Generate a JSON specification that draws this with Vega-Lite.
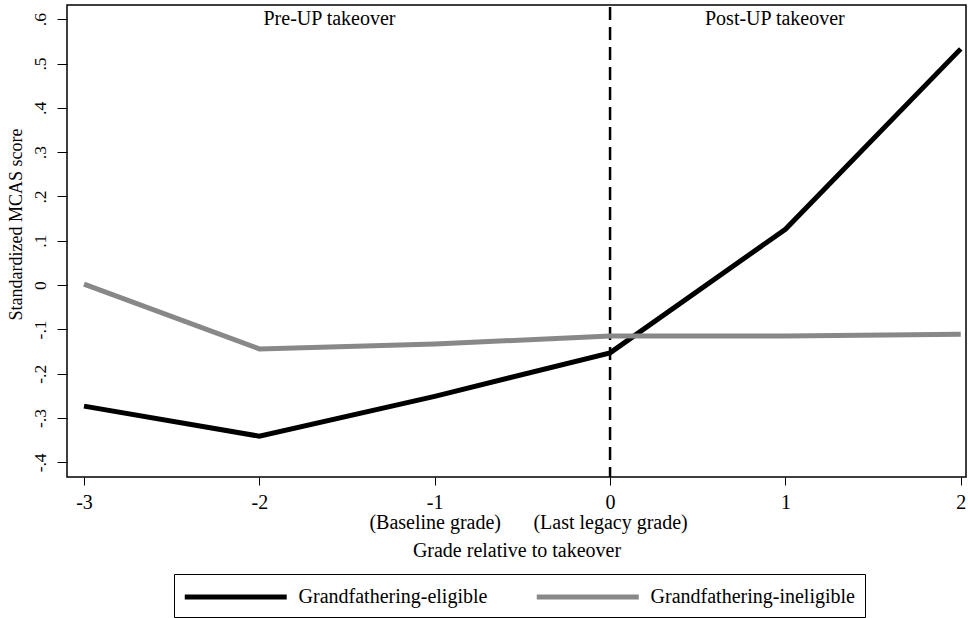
{
  "$schema": "https://vega.github.io/schema/vega-lite/v6.json",
  "autosize": "none",
  "width": 899,
  "height": 472,
  "padding": {"left": 67, "top": 5, "right": 2, "bottom": 141},
  "background": "white",
  "config": {
    "font": "Liberation Serif, Times New Roman, Times, serif",
    "view": {"stroke": "black", "strokeWidth": 1.5},
    "axis": {"grid": false, "domain": false, "tickColor": "black", "labelColor": "black", "titleColor": "black", "labelFont": "Liberation Serif, Times New Roman, Times, serif", "titleFont": "Liberation Serif, Times New Roman, Times, serif", "titleFontWeight": "normal"}
  },
  "datasets": {
    "series": [
      {"grade": -3, "score": -0.273, "group": "Grandfathering-eligible"},
      {"grade": -2, "score": -0.341, "group": "Grandfathering-eligible"},
      {"grade": -1, "score": -0.251, "group": "Grandfathering-eligible"},
      {"grade": 0, "score": -0.153, "group": "Grandfathering-eligible"},
      {"grade": 1, "score": 0.126, "group": "Grandfathering-eligible"},
      {"grade": 2, "score": 0.533, "group": "Grandfathering-eligible"},
      {"grade": -3, "score": 0.002, "group": "Grandfathering-ineligible"},
      {"grade": -2, "score": -0.144, "group": "Grandfathering-ineligible"},
      {"grade": -1, "score": -0.133, "group": "Grandfathering-ineligible"},
      {"grade": 0, "score": -0.115, "group": "Grandfathering-ineligible"},
      {"grade": 1, "score": -0.115, "group": "Grandfathering-ineligible"},
      {"grade": 2, "score": -0.111, "group": "Grandfathering-ineligible"}
    ],
    "notes": [
      {"grade": -1.6, "score": 0.6, "label": "Pre-UP takeover"},
      {"grade": 0.94, "score": 0.6, "label": "Post-UP takeover"}
    ],
    "cutoff": [{"grade": 0}]
  },
  "layer": [
    {
      "data": {"name": "cutoff"},
      "mark": {"type": "rule", "color": "black", "strokeWidth": 2.5, "strokeDash": [13, 7], "strokeDashOffset": -2},
      "encoding": {"x": {"field": "grade", "type": "quantitative", "scale": {"domain": [-3.097, 2.03]}}}
    },
    {
      "data": {"name": "series"},
      "mark": {"type": "line", "strokeWidth": 5, "strokeJoin": "miter", "strokeCap": "butt", "clip": true},
      "encoding": {
        "x": {
          "field": "grade", "type": "quantitative",
          "scale": {"domain": [-3.097, 2.03], "nice": false, "zero": false},
          "axis": {
            "values": [-3, -2, -1, 0, 1, 2],
            "tickSize": 8,
            "labelPadding": 7,
            "labelFontSize": 20,
            "labelLineHeight": 20,
            "labelExpr": "datum.value == -1 ? ['-1', '(Baseline grade)'] : datum.value == 0 ? ['0', '(Last legacy grade)'] : '' + datum.value",
            "title": "Grade relative to takeover",
            "titleFontSize": 20,
            "titlePadding": 8
          }
        },
        "y": {
          "field": "score", "type": "quantitative",
          "scale": {"domain": [-0.433, 0.632], "nice": false, "zero": false},
          "axis": {
            "values": [-0.4, -0.3, -0.2, -0.1, 0, 0.1, 0.2, 0.3, 0.4, 0.5, 0.6],
            "tickSize": 10,
            "labelAngle": -90,
            "labelAlign": "center",
            "labelBaseline": "bottom",
            "labelPadding": 8,
            "labelFontSize": 17.5,
            "labelExpr": "datum.value == 0 ? '0' : replace('' + datum.value, '0.', '.')",
            "title": "Standardized MCAS score",
            "titleFontSize": 18,
            "titleY": 219,
            "titlePadding": 6
          }
        },
        "color": {
          "field": "group", "type": "nominal",
          "scale": {"domain": ["Grandfathering-eligible", "Grandfathering-ineligible"], "range": ["#000000", "#888888"]},
          "legend": {
            "title": null,
            "orient": "none",
            "legendX": 107,
            "legendY": 569,
            "direction": "horizontal",
            "symbolType": "M-1.2,0H8.8",
            "symbolStrokeWidth": 5,
            "symbolSize": 416,
            "labelFont": "Liberation Serif, Times New Roman, Times, serif",
            "labelFontSize": 20,
            "labelLimit": 400,
            "labelColor": "black",
            "labelOffset": 88.6,
            "columnPadding": 38,
            "strokeColor": "black",
            "padding": 10
          }
        }
      }
    },
    {
      "data": {"name": "notes"},
      "mark": {"type": "text", "fontSize": 20, "color": "black", "align": "center", "baseline": "middle"},
      "encoding": {
        "x": {"field": "grade", "type": "quantitative"},
        "y": {"field": "score", "type": "quantitative"},
        "text": {"field": "label"}
      }
    }
  ]
}
